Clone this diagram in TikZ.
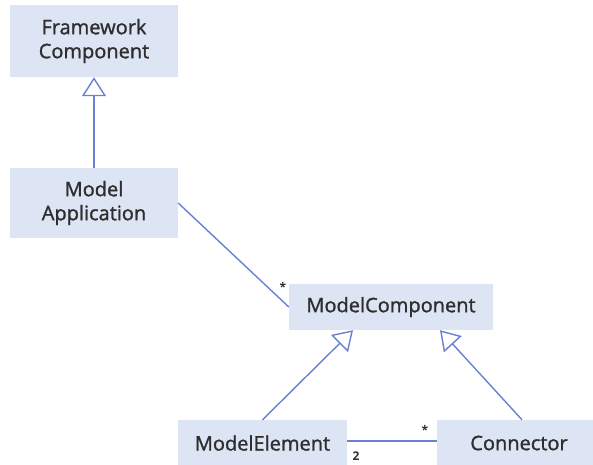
\documentclass[tikz,border=0pt]{standalone}
\usepackage{fontspec}
\setmainfont{Open Sans}
\newfontfamily\boxfont[RawFeature={embolden=1.3}]{Open Sans}
\usetikzlibrary{arrows.meta,calc}
\definecolor{boxfill}{HTML}{DDE5F5}
\definecolor{linkblue}{HTML}{6A80D2}
\definecolor{ink}{HTML}{2E2E2E}
\begin{document}
\begin{tikzpicture}[x=1pt,y=-1pt,
  classbox/.style={fill=boxfill, draw=none, text=ink, font=\boxfont\fontsize{20}{24}\selectfont,
    align=center, inner sep=0pt},
  assoc/.style={draw=linkblue, line width=1.4pt},
  inherit/.style={assoc, -{Triangle[open, width=24pt, length=19pt, fill=white, line width=1.4pt]}},
  mult/.style={text=ink, font=\fontsize{12}{14}\selectfont\bfseries, inner sep=0pt}]
  \useasboundingbox (0,0) rectangle (593,464);

  % classes
  \node[classbox, minimum width=168pt, minimum height=72pt] (fc) at (94,41) {Framework\\Component};
  \node[classbox, minimum width=168pt, minimum height=70pt] (ma) at (94,203) {Model\\Application};
  \node[classbox, minimum width=204pt, minimum height=46pt] (mc) at (391,307) {ModelComponent};
  \node[classbox, minimum width=169pt, minimum height=46pt] (me) at (262.5,443) {ModelElement};
  \node[classbox, minimum width=164pt, minimum height=46pt] (co) at (519,443) {Connector};

  % generalisations
  \draw[inherit] (ma.north) -- (fc.south);
  \draw[inherit] (me.north) -- ($(mc.south)+(-38,0)$);
  \draw[inherit] ($(co.north)+(3,0)$) -- ($(mc.south)+(49,0)$);

  % associations
  \draw[assoc] (ma.east) -- (mc.west);
  \draw[assoc] ($(me.east)+(0,-2)$) -- ($(co.west)+(0,-2)$);

  % multiplicities
  \node[mult] (m1) at (283,287) {*};
  \node[mult] (m2) at (356,456) {2};
  \node[mult] (m3) at (425,430) {*};
\end{tikzpicture}
\end{document}
